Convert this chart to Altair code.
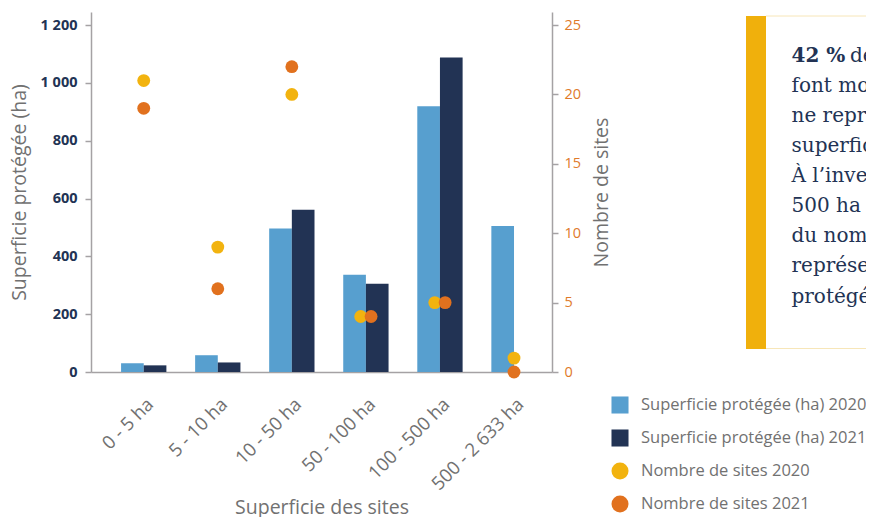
import altair as alt
import pandas as pd

# ---------------- data ----------------
categories = ["0 - 5 ha", "5 - 10 ha", "10 - 50 ha", "50 - 100 ha", "100 - 500 ha", "500 - 2 633 ha"]
area_2020 = [30, 58, 496, 336, 919, 505]
area_2021 = [23, 33, 561, 305, 1088, 0]
sites_2020 = [21, 9, 20, 4, 5, 1]
sites_2021 = [19, 6, 22, 4, 5, 0]

series = [
    "Superficie protégée (ha) 2020",
    "Superficie protégée (ha) 2021",
    "Nombre de sites 2020",
    "Nombre de sites 2021",
]
colors = ["#579fcf", "#223354", "#f2b30f", "#e1711e"]
shapes = ["square", "square", "circle", "circle"]

callout_bold = "42 %"
callout_first_rest = "des sites"
callout_lines = [
    "font moins de 5 ha mais",
    "ne représentent que 1 % de la",
    "superficie totale protégée.",
    "À l’inverse, les sites de plus de",
    "500 ha représentent seulement",
    "du nombre de sites, mais",
    "représentent 32 % de la superficie",
    "protégée.",
]

# ---------------- tables ----------------
rows_bar = []
rows_pt = []
for i, c in enumerate(categories):
    rows_bar.append({"idx": i, "cat": c, "series": series[0], "value": area_2020[i]})
    rows_bar.append({"idx": i, "cat": c, "series": series[1], "value": area_2021[i]})
    rows_pt.append({"idx": i, "cat": c, "series": series[2], "value": sites_2020[i]})
    rows_pt.append({"idx": i, "cat": c, "series": series[3], "value": sites_2021[i]})
bars_df = pd.DataFrame(rows_bar)
pts_df = pd.DataFrame(rows_pt)
lines_df = pd.DataFrame({"n": list(range(len(callout_lines))), "t": callout_lines})

W, H = 461, 360
BW = 0.306  # bar width in category steps

navy = "#223354"
gray = "#717171"
axis_gray = "#a5a2a4"
orange = "#e07a2a"

x_scale = alt.Scale(domain=[-0.712, 5.513], nice=False, zero=False)
label_expr = "[" + ",".join("'" + c + "'" for c in categories) + "][datum.value]"

color_enc = alt.Color(
    "series:N",
    scale=alt.Scale(domain=series, range=colors),
    legend=alt.Legend(
        title=None, orient="none", legendX=520, legendY=384, padding=0,
        symbolSize=290, symbolStrokeWidth=0, labelFont="Open Sans", labelFontSize=16.5,
        labelColor=gray, labelLimit=400, labelOffset=12, rowPadding=15,
    ),
)

bars = alt.Chart(bars_df).transform_calculate(
    x0=f"datum.series == '{series[0]}' ? datum.idx - {BW} : datum.idx",
    x1=f"datum.series == '{series[0]}' ? datum.idx : datum.idx + {BW}",
).mark_bar().encode(
    x=alt.X(
        "x0:Q", scale=x_scale,
        axis=alt.Axis(
            values=list(range(len(categories))), labelExpr=label_expr, title="Superficie des sites",
            labelAngle=-45, labelAlign="right", labelBaseline="middle", labelPadding=29, labelOffset=6,
            labelOverlap=False, labelBound=False,
            tickSize=0, grid=False, labelFont="Open Sans", labelFontSize=18.5, labelColor=gray,
            domainColor=axis_gray, domainWidth=1.5, titleFont="Open Sans", titleFontSize=19.5,
            titleFontWeight="normal", titleColor=gray, titleY=141, titleBaseline="alphabetic",
        ),
    ),
    x2="x1:Q",
    y=alt.Y(
        "value:Q", scale=alt.Scale(domain=[0, 1245], nice=False),
        axis=alt.Axis(
            values=[0, 200, 400, 600, 800, 1000, 1200],
            labelExpr="replace(format(datum.value, ','), ',', ' ')",
            title="Superficie protégée (ha)", grid=False, tickSize=6, tickColor=axis_gray,
            tickWidth=1.5, domainColor=axis_gray, domainWidth=1.5,
            labelFont="Open Sans", labelFontSize=14.5, labelFontWeight="bold", labelColor=navy, labelPadding=8,
            titleFont="Open Sans", titleFontSize=19.5, titleFontWeight="normal", titleColor=gray,
            titleX=-62, titleY=180, titleAngle=270, titleBaseline="bottom", titleAlign="center",
        ),
    ),
    y2=alt.datum(0),
    color=color_enc,
)

points = alt.Chart(pts_df).transform_joinaggregate(
    vmin="min(value)", vmax="max(value)", groupby=["idx"]
).transform_calculate(
    xp=f"datum.vmax == datum.vmin ? (datum.series == '{series[2]}' ? datum.idx - 0.07 : datum.idx + 0.07) : datum.idx"
).mark_point(filled=True, size=165, opacity=1).encode(
    x=alt.X("xp:Q", scale=x_scale),
    y=alt.Y(
        "value:Q", scale=alt.Scale(domain=[0, 25.94], nice=False),
        axis=alt.Axis(
            orient="right", values=[0, 5, 10, 15, 20, 25], title="Nombre de sites", grid=False,
            tickSize=6, tickColor=axis_gray, tickWidth=1.5, domainColor=axis_gray, domainWidth=1.5,
            labelFont="Open Sans", labelFontSize=14.5, labelColor=orange, labelPadding=6,
            titleFont="Open Sans", titleFontSize=19.5, titleFontWeight="normal", titleColor=gray,
            titleX=59, titleY=180, titleAngle=270, titleBaseline="bottom", titleAlign="center",
        ),
    ),
    color=alt.Color("series:N", scale=alt.Scale(domain=series, range=colors)),
    shape=alt.Shape("series:N", scale=alt.Scale(domain=series, range=shapes)),
)

# ---------------- callout ----------------
callout_bar = alt.Chart(pd.DataFrame({"k": [0]})).mark_rect(color="#f0b00c").encode(
    x=alt.value(655), x2=alt.value(675), y=alt.value(4), y2=alt.value(337)
)
callout_top = alt.Chart(pd.DataFrame({"k": [0]})).mark_rule(color="#f7e6b8", strokeWidth=1).encode(
    x=alt.value(675), x2=alt.value(800), y=alt.value(4)
)
callout_bottom = alt.Chart(pd.DataFrame({"k": [0]})).mark_rule(color="#f7e6b8", strokeWidth=1).encode(
    x=alt.value(675), x2=alt.value(800), y=alt.value(336.5)
)
t_bold = alt.Chart(pd.DataFrame({"t": [callout_bold]})).mark_text(
    font="DejaVu Serif", fontSize=20, fontWeight="bold", color=navy, align="left", baseline="alphabetic"
).encode(text="t:N", x=alt.value(700.5), y=alt.value(49.7))
t_rest = alt.Chart(pd.DataFrame({"t": [callout_first_rest]})).mark_text(
    font="DejaVu Serif", fontSize=20, color=navy, align="left", baseline="alphabetic"
).encode(text="t:N", x=alt.value(759), y=alt.value(49.7))
t_lines = alt.Chart(lines_df).mark_text(
    font="DejaVu Serif", fontSize=20, color=navy, align="left", baseline="alphabetic"
).encode(
    text="t:N",
    x=alt.value(700.5),
    y=alt.Y("n:Q", scale=alt.Scale(domain=[0, 7], range=[79.8, 290.5]), axis=None),
)

chart = alt.layer(
    bars, points, callout_bar, callout_top, callout_bottom, t_bold, t_rest, t_lines
).resolve_scale(
    y="independent"
).properties(
    width=W, height=H,
    autosize=alt.AutoSizeParams(type="none"),
    padding={"left": 83, "top": 4, "right": 314, "bottom": 145},
).configure_view(stroke=None)

chart.save("out.html", embed_options={"renderer": "svg", "actions": False})
